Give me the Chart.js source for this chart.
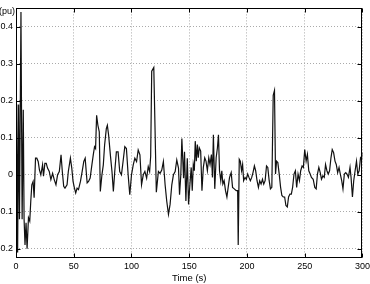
<!DOCTYPE html>
<html>
<head>
<meta charset="utf-8">
<script src="https://cdn.jsdelivr.net/npm/chart.js@4/dist/chart.umd.min.js"></script>
<style>
html,body{margin:0;padding:0;background:#fff;overflow:hidden;width:370px;height:284px;}
#wrap{position:absolute;left:-14px;top:0;width:387px;height:284px;}
canvas{display:block;}
</style>
</head>
<body>
<div id="wrap"><canvas id="c" width="387" height="284"></canvas></div>
<script>
const times = [0,0.7,1.4,2.3,3.0,4.3,5.3,6.3,7.0,7.8,8.7,9.6,10.8,11.9,12.8,13.7,14.8,15.7,16.9,18.0,19.2,20.3,21.5,23.0,23.8,25.0,26.2,27.3,28.8,30.2,31.7,33.1,34.6,36.0,37.5,39.0,40.1,41.3,42.4,44.2,45.3,47.1,48.3,49.4,50.6,51.7,52.9,54.1,55.8,57.3,58.7,59.9,60.8,61.6,62.8,64.2,65.7,66.9,68.0,68.9,69.8,70.9,72.1,73.0,74.4,75.6,76.7,78.2,79.1,80.2,81.7,83.1,84.3,85.5,86.9,88.4,89.8,91.3,92.7,94.2,95.6,97.1,98.5,100.0,101.5,102.9,104.4,105.8,107.3,108.7,110.2,111.6,113.1,114.5,115.7,116.6,117.5,119.3,121.5,123.3,124.7,126.2,127.6,129.1,130.5,132.0,133.4,134.9,136.3,137.8,139.2,140.7,141.6,142.7,143.6,145.1,145.9,147.1,148.3,149.4,150.6,151.7,152.6,153.5,154.4,155.2,156.1,157.0,157.8,158.7,159.9,161.0,162.2,163.4,164.5,165.7,166.9,168.0,169.2,170.1,170.9,172.1,173.3,174.4,175.3,176.2,177.3,178.2,179.1,180.2,181.4,182.6,183.7,184.9,186.3,187.5,189.0,190.7,191.9,192.4,193.3,194.2,195.3,196.2,197.1,198.3,199.4,200.6,201.7,202.9,204.1,205.2,206.4,207.5,208.7,209.9,211.0,212.2,213.4,214.5,215.7,216.9,218.0,219.2,220.3,221.5,222.7,223.8,224.7,225.6,226.7,227.9,229.1,230.2,231.4,232.6,233.7,234.9,236.0,237.2,238.4,239.5,240.7,241.9,243.0,244.2,245.4,246.5,247.7,248.8,250.0,251.2,252.3,253.5,254.7,255.8,257.3,258.7,259.9,261.0,262.2,263.4,264.5,265.7,266.9,268.0,269.2,270.3,271.5,272.7,273.8,275.0,276.2,277.3,278.5,279.7,280.8,282.0,283.1,284.3,285.5,286.6,287.8,289.2,290.1,291.3,292.4,293.6,294.8,295.9,297.1,298.3,299.4,300.0];
const powerPu = [-0.02,0.19,-0.21,0.19,-0.12,0.44,-0.12,0.176,-0.12,-0.19,-0.13,-0.2,-0.116,-0.125,-0.071,-0.027,-0.018,-0.062,0.045,0.045,0.036,0.013,0,0.027,-0.004,0.031,0.031,0.018,0.009,-0.013,0.004,-0.013,-0.027,0,0.009,0.054,0.009,-0.031,-0.036,-0.027,0.009,0.045,0.018,-0.018,-0.036,-0.049,-0.036,-0.04,-0.018,0.009,0.036,0.045,0.009,-0.022,-0.018,-0.009,0.027,0.054,0.076,0.071,0.161,0.134,0.116,-0.045,0,0.027,0.08,0.125,0.134,0.107,0.054,0.009,-0.045,0.009,0.062,0.062,0.009,0,0.036,0.076,0.071,0,-0.054,0,0.027,0.045,0.036,0.067,0.054,-0.027,0,0.009,-0.009,0.022,0.009,0.05,0.28,0.29,-0.047,0.009,0.004,0.013,0.036,-0.027,-0.071,-0.107,-0.08,-0.027,0,0.009,0.04,0.018,-0.054,0,0.098,-0.009,0.062,-0.071,0.045,-0.08,-0.025,0.02,-0.043,0.028,0.011,0.091,0.037,0.082,0.046,0.073,0.064,-0.043,0.02,0.046,0.037,0.011,0.046,0.028,0.055,-0.007,0.108,-0.038,0.046,0.073,0.108,0.011,-0.016,0.011,-0.025,-0.016,-0.043,-0.06,-0.034,-0.007,0.006,-0.034,-0.038,-0.043,-0.043,-0.19,0.042,0.037,0.011,0.028,-0.016,-0.007,-0.012,0.002,-0.007,-0.016,-0.007,0.006,0.024,0.011,-0.016,-0.034,-0.016,-0.025,-0.012,-0.025,-0.016,0.024,0.02,-0.016,-0.038,-0.034,0.215,0.228,0.002,0.037,0.033,0.002,-0.034,-0.056,-0.06,-0.06,-0.083,-0.087,-0.06,-0.052,-0.052,-0.034,0.002,0.011,-0.034,0.002,-0.016,0.011,0.024,0.02,0.068,0.037,0.055,0.011,0.002,-0.007,-0.012,-0.034,-0.038,0.002,0.02,0.006,-0.012,-0.003,-0.007,0.028,0.011,0.002,0.011,0.046,0.068,0.06,0.037,0.028,0.006,0.02,0.002,-0.016,-0.038,0.002,0.006,0.002,-0.007,0.02,-0.007,-0.06,-0.016,0.011,0.037,0.002,0.011,0.046,0.042,0.06];
const xTicks = [0,50,100,150,200,250,300];
const yTicks = [-0.2,-0.1,0,0.1,0.2,0.3,0.4];
const xTitle = 'Time (s)';
const yUnit = '(pu)';

const FONT = '"Liberation Sans", Arial, Helvetica, sans-serif';

const frame = {
  id: 'frame',
  afterDraw(chart) {
    const ctx = chart.ctx;
    const a = chart.chartArea;
    const xs = chart.scales.x, ys = chart.scales.y;
    const L = Math.round(a.left) + 0.5, R = Math.round(a.right) - 0.5;
    const T = Math.round(a.top) + 0.5, B = Math.round(a.bottom) - 0.5;
    ctx.save();
    ctx.strokeStyle = '#000';
    ctx.lineWidth = 1;
    ctx.setLineDash([]);
    ctx.beginPath();
    xTicks.forEach(v => {
      const p = Math.round(xs.getPixelForValue(v)) + 0.5;
      ctx.moveTo(p, B); ctx.lineTo(p, B - 4);
      ctx.moveTo(p, T); ctx.lineTo(p, T + 4);
    });
    yTicks.forEach(v => {
      const p = Math.round(ys.getPixelForValue(v)) + 0.5;
      ctx.moveTo(L, p); ctx.lineTo(L + 4, p);
      ctx.moveTo(R, p); ctx.lineTo(R - 4, p);
    });
    ctx.stroke();
    ctx.strokeRect(L, T, R - L, B - T);
    ctx.fillStyle = '#000';
    ctx.font = '9px ' + FONT;
    ctx.textAlign = 'right';
    ctx.textBaseline = 'middle';
    ctx.fillText(yUnit, a.left - 1, 12);
    ctx.restore();
  }
};

new Chart(document.getElementById('c'), {
  type: 'line',
  data: {
    datasets: [{
      data: times.map((t, i) => ({x: t, y: powerPu[i]})),
      borderColor: '#111',
      borderWidth: 1.2,
      pointRadius: 0,
      tension: 0,
      fill: false
    }]
  },
  options: {
    responsive: false,
    animation: false,
    devicePixelRatio: 1,
    layout: {padding: {top: 6, right: 9.5, bottom: 0, left: 0}},
    plugins: {legend: {display: false}, tooltip: {enabled: false}},
    scales: {
      x: {
        type: 'linear', min: 0, max: 300,
        afterBuildTicks: s => { s.ticks = xTicks.map(v => ({value: v})); },
        afterFit: s => { s.height = 26; },
        grid: {color: '#aaa', lineWidth: 1, drawTicks: false},
        border: {display: false, dash: [1, 2]},
        ticks: {color: '#000', padding: 3, font: {family: FONT, size: 9}, maxRotation: 0, callback: v => String(v)},
        title: {display: true, text: xTitle, color: '#000', padding: {top: 0, bottom: 0}, font: {family: FONT, size: 9.5}}
      },
      y: {
        type: 'linear', min: -0.225, max: 0.45,
        afterBuildTicks: s => { s.ticks = yTicks.map(v => ({value: v})); },
        afterFit: s => { s.width = 30; },
        grid: {color: '#aaa', lineWidth: 1, drawTicks: false},
        border: {display: false, dash: [1, 2]},
        ticks: {color: '#000', padding: 3, font: {family: FONT, size: 9}, callback: v => String(v)}
      }
    }
  },
  plugins: [frame]
});
</script>
</body>
</html>
